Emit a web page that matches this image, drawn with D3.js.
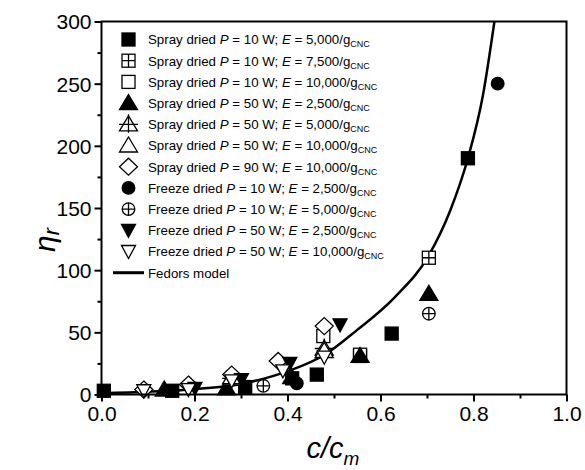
<!DOCTYPE html>
<html>
<head>
<meta charset="utf-8">
<script src="https://cdn.jsdelivr.net/npm/d3@7"></script>
<style>
  body { margin: 0; background: #fff; }
  text { font-family: Arial, "Liberation Sans", sans-serif; fill: #000; }
</style>
</head>
<body>
<div id="chart"></div>
<script>
// ---- data: [c/cm, eta_r] ----
var sprayP10E5000  = [[0.005, 3], [0.152, 3], [0.309, 6], [0.41, 13], [0.463, 16], [0.624, 49], [0.788, 190]];
var sprayP10E7500  = [[0.556, 31], [0.704, 110]];
var sprayP10E10000 = [[0.477, 47], [0.556, 32]];
var sprayP50E2500  = [[0.135, 4], [0.269, 5], [0.409, 14], [0.556, 31], [0.704, 81]];
var sprayP50E5000  = [[0.28, 13], [0.479, 37]];
var sprayP50E10000 = [[0.28, 14], [0.479, 35]];
var sprayP90E10000 = [[0.091, 4], [0.187, 8], [0.28, 16], [0.38, 27], [0.479, 55]];
var freezeP10E2500 = [[0.42, 9], [0.852, 250]];
var freezeP10E5000 = [[0.348, 7], [0.704, 65]];
var freezeP50E2500 = [[0.201, 5], [0.301, 12], [0.405, 25], [0.513, 56]];
var freezeP50E10000 = [[0.091, 3], [0.187, 4], [0.28, 11], [0.39, 19], [0.479, 30]];
// Fedors model curve
var fedorsModel = [[0, 1], [0.1, 2.2], [0.2, 4.3], [0.3, 8.5], [0.37, 15], [0.41, 20], [0.48, 32],
                   [0.55, 52], [0.63, 78], [0.704, 112], [0.75, 148], [0.788, 190], [0.82, 240], [0.845, 300]];

var xTicks = [0, 0.2, 0.4, 0.6, 0.8, 1.0];
var xMinor = [0.1, 0.3, 0.5, 0.7, 0.9];
var yTicks = [0, 50, 100, 150, 200, 250, 300];
var yMinor = [25, 75, 125, 175, 225, 275];

var seriesList = [
  { pre: "Spray dried", p: "10", e: "5,000",  shape: "squareFilled",  data: sprayP10E5000 },
  { pre: "Spray dried", p: "10", e: "7,500",  shape: "squareCross",   data: sprayP10E7500 },
  { pre: "Spray dried", p: "10", e: "10,000", shape: "squareOpen",    data: sprayP10E10000 },
  { pre: "Spray dried", p: "50", e: "2,500",  shape: "triUpFilled",   data: sprayP50E2500 },
  { pre: "Spray dried", p: "50", e: "5,000",  shape: "triUpCross",    data: sprayP50E5000 },
  { pre: "Spray dried", p: "50", e: "10,000", shape: "triUpOpen",     data: sprayP50E10000 },
  { pre: "Spray dried", p: "90", e: "10,000", shape: "diamondOpen",   data: sprayP90E10000 },
  { pre: "Freeze dried", p: "10", e: "2,500", shape: "circleFilled",  data: freezeP10E2500 },
  { pre: "Freeze dried", p: "10", e: "5,000", shape: "circleCross",   data: freezeP10E5000 },
  { pre: "Freeze dried", p: "50", e: "2,500", shape: "triDownFilled", data: freezeP50E2500 },
  { pre: "Freeze dried", p: "50", e: "10,000", shape: "triDownOpen",  data: freezeP50E10000 }
];

// ---- layout ----
var W = 585, H = 470;
var plot = { left: 101.5, right: 566.5, top: 21.5, bottom: 394.5 };

var x = d3.scaleLinear().domain([0, 1]).range([plot.left, plot.right]);
var y = d3.scaleLinear().domain([0, 300]).range([plot.bottom, plot.top]);

var svg = d3.select("#chart").append("svg")
            .attr("width", W)
            .attr("height", H);

svg.append("defs").append("clipPath")
   .attr("id", "clip")
   .append("rect")
   .attr("x", plot.left).attr("y", plot.top)
   .attr("width", plot.right - plot.left)
   .attr("height", plot.bottom - plot.top);

// draw one marker shape centred at 0,0
function drawMarker(g, shape) {
  var filled = /Filled/.test(shape);
  var fill = filled ? "#000" : "#fff";
  var sw = 1.3;
  if (/square/.test(shape)) {
    g.append("rect").attr("x", -6.5).attr("y", -6.5).attr("width", 13).attr("height", 13)
     .attr("fill", fill).attr("stroke", "#000").attr("stroke-width", sw);
    if (shape == "squareCross") {
      g.append("path").attr("d", "M0,-6.5V6.5M-6.5,0H6.5").attr("stroke", "#000").attr("stroke-width", sw);
    }
  } else if (/triUp/.test(shape)) {
    g.append("path").attr("d", "M0,-8.5L9,6.5L-9,6.5Z")
     .attr("fill", fill).attr("stroke", "#000").attr("stroke-width", sw);
    if (shape == "triUpCross") {
      g.append("path").attr("d", "M0,-10V8.5M-9.5,0H9.5").attr("stroke", "#000").attr("stroke-width", sw);
    }
  } else if (/triDown/.test(shape)) {
    g.append("path").attr("d", "M0,7L7,-6L-7,-6Z")
     .attr("fill", fill).attr("stroke", "#000").attr("stroke-width", sw);
  } else if (/diamond/.test(shape)) {
    g.append("path").attr("d", "M0,-8.5L9,0L0,8.5L-9,0Z")
     .attr("fill", fill).attr("stroke", "#000").attr("stroke-width", sw);
  } else if (/circle/.test(shape)) {
    g.append("circle").attr("r", 6.3)
     .attr("fill", fill).attr("stroke", "#000").attr("stroke-width", sw);
    if (shape == "circleCross") {
      g.append("path").attr("d", "M0,-6.3V6.3M-6.3,0H6.3").attr("stroke", "#000").attr("stroke-width", sw);
    }
  }
}

// ---- model curve ----
var line = d3.line()
             .curve(d3.curveMonotoneX)
             .x(function(d) { return x(d[0]); })
             .y(function(d) { return y(d[1]); });

svg.append("path")
   .datum(fedorsModel)
   .attr("clip-path", "url(#clip)")
   .attr("fill", "none")
   .attr("stroke", "#000")
   .attr("stroke-width", 2.5)
   .attr("d", line);

// ---- data points ----
seriesList.forEach(function(s) {
  svg.append("g").selectAll("g")
     .data(s.data)
     .enter().append("g")
     .attr("transform", function(d) { return "translate(" + x(d[0]) + "," + y(d[1]) + ")"; })
     .each(function() { drawMarker(d3.select(this), s.shape); });
});

// ---- axes ----
var xAxis = svg.append("g")
   .attr("transform", "translate(0," + plot.bottom + ")")
   .call(d3.axisBottom(x).tickValues(xTicks).tickSize(7).tickSizeOuter(0).tickPadding(4)
           .tickFormat(d3.format(".1f")));
var xAxisMinor = svg.append("g")
   .attr("transform", "translate(0," + plot.bottom + ")")
   .call(d3.axisBottom(x).tickValues(xMinor).tickSize(4).tickSizeOuter(0).tickFormat(""));

var yAxis = svg.append("g")
   .attr("transform", "translate(" + plot.left + ",0)")
   .call(d3.axisLeft(y).tickValues(yTicks).tickSize(7).tickSizeOuter(0).tickPadding(3));
var yAxisMinor = svg.append("g")
   .attr("transform", "translate(" + plot.left + ",0)")
   .call(d3.axisLeft(y).tickValues(yMinor).tickSize(4).tickSizeOuter(0).tickFormat(""));

svg.selectAll(".domain").remove();
svg.selectAll(".tick line").attr("stroke", "#000").attr("stroke-width", 2);
xAxis.selectAll("text").attr("font-size", 21).attr("dy", "0.75em");
yAxis.selectAll("text").attr("font-size", 21).attr("dy", "0.35em");

// frame
svg.append("rect")
   .attr("x", plot.left).attr("y", plot.top)
   .attr("width", plot.right - plot.left)
   .attr("height", plot.bottom - plot.top)
   .attr("fill", "none")
   .attr("stroke", "#000")
   .attr("stroke-width", 2);

// ---- axis titles ----
var xTitle = svg.append("text")
   .attr("x", 333).attr("y", 458)
   .attr("text-anchor", "middle")
   .attr("font-size", 29)
   .attr("font-style", "italic");
xTitle.append("tspan").text("c/c");
xTitle.append("tspan").attr("font-size", 19).attr("dy", 7).text("m");

var yTitle = svg.append("text")
   .attr("transform", "translate(55,240) rotate(-90)")
   .attr("text-anchor", "middle")
   .attr("font-size", 30)
   .attr("font-style", "italic");
yTitle.append("tspan").text("\u03b7");
yTitle.append("tspan").attr("font-size", 22).attr("dy", 4).text("r");

// ---- legend ----
var legend = svg.append("g");
var rowH = 21.2, row0 = 39.5;

seriesList.forEach(function(s, i) {
  var ly = row0 + i * rowH;
  var mg = legend.append("g").attr("transform", "translate(128.5," + ly + ")");
  drawMarker(mg, s.shape);

  var t = legend.append("text")
     .attr("x", 148).attr("y", ly + 4.8)
     .attr("font-size", 13.3);
  t.append("tspan").text(s.pre + " ");
  t.append("tspan").attr("font-style", "italic").text("P");
  t.append("tspan").text(" = " + s.p + " W; ");
  t.append("tspan").attr("font-style", "italic").text("E");
  t.append("tspan").text(" = " + s.e + "/g");
  t.append("tspan").attr("font-size", 9).attr("dy", 3).text("CNC");
});

var lyF = row0 + seriesList.length * rowH;
legend.append("line")
      .attr("x1", 113).attr("x2", 144)
      .attr("y1", lyF).attr("y2", lyF)
      .attr("stroke", "#000").attr("stroke-width", 3);
legend.append("text")
      .attr("x", 148).attr("y", lyF + 4.8)
      .attr("font-size", 13.3)
      .text("Fedors model");
</script>
</body>
</html>
